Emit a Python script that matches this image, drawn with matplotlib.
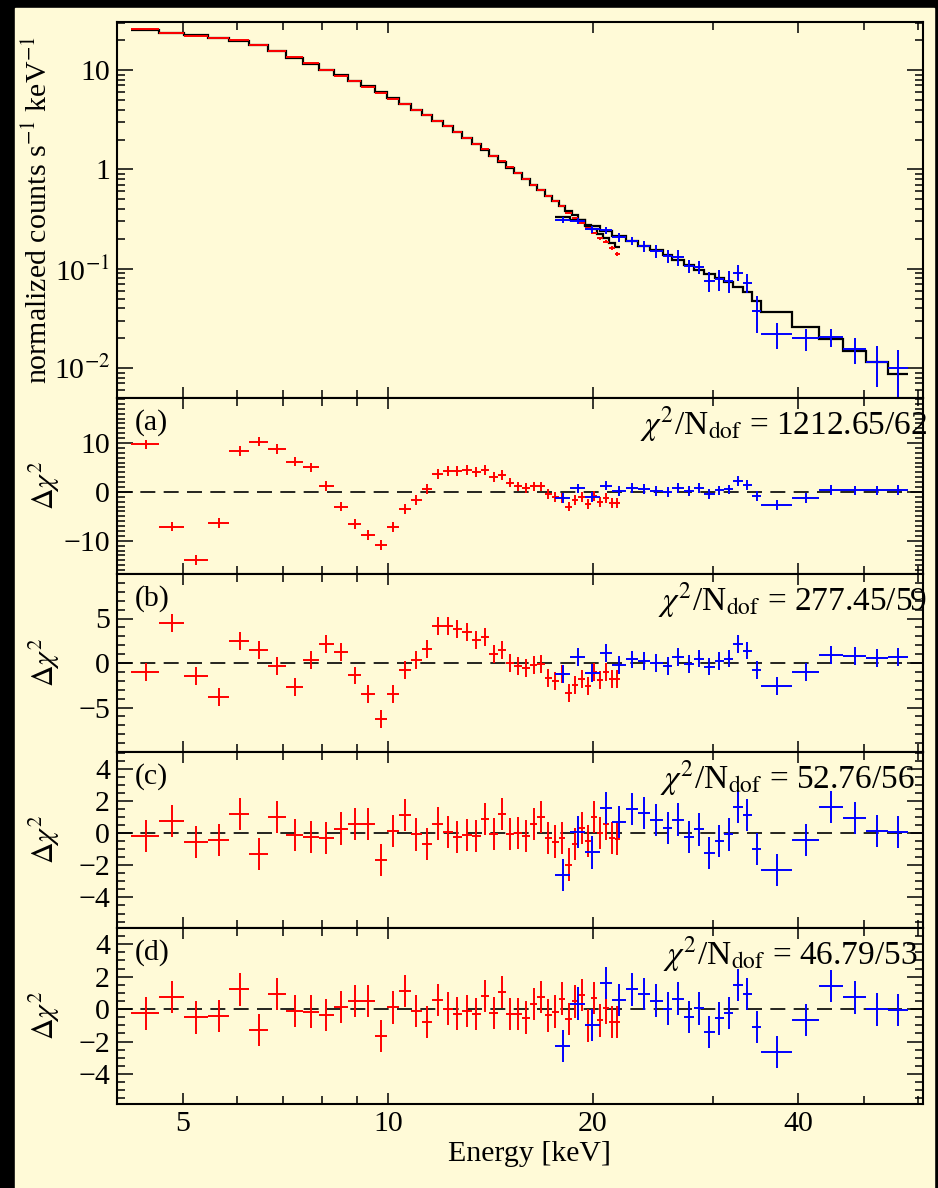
import numpy as np
import matplotlib
matplotlib.use('Agg')
import matplotlib.pyplot as plt
from matplotlib.ticker import FixedLocator, FixedFormatter, NullFormatter, MultipleLocator
from matplotlib.patches import Rectangle

plt.rcParams['font.family'] = ['Liberation Serif', 'DejaVu Serif']
plt.rcParams['mathtext.fontset'] = 'stix'

# red spectrum (low energy instrument): bin edges in keV, counts, errors, model
red_edges = [4.20, 4.61, 5.02, 5.44, 5.85, 6.26, 6.67, 7.08, 7.50, 7.91,
             8.32, 8.73, 9.14, 9.56, 9.97, 10.38, 10.79, 11.20, 11.62, 12.03,
             12.44, 12.85, 13.26, 13.68, 14.09, 14.50, 14.91, 15.32, 15.74, 16.15,
             16.56, 16.97, 17.38, 17.80, 18.21, 18.62, 19.03, 19.44, 19.86, 20.27,
             20.68, 21.09, 21.50, 21.92]
red_counts = [25.7, 23.6, 22.2, 20.9, 20.0, 18.1, 15.6, 13.45, 11.7, 10.1,
              8.8, 7.7, 6.7, 5.87, 5.13, 4.51, 3.97, 3.50, 3.10, 2.74,
              2.39, 2.09, 1.82, 1.60, 1.37, 1.21, 1.05, 0.918, 0.798, 0.705,
              0.628, 0.541, 0.476, 0.426, 0.363, 0.324, 0.288, 0.258, 0.230, 0.203,
              0.187, 0.161, 0.141]
red_err = [0.10, 0.09, 0.09, 0.08, 0.08, 0.07, 0.06, 0.05, 0.05, 0.04,
           0.04, 0.035, 0.03, 0.027, 0.024, 0.021, 0.019, 0.017, 0.015, 0.014,
           0.012, 0.011, 0.010, 0.009, 0.008, 0.0075, 0.007, 0.0065, 0.006, 0.0055,
           0.005, 0.005, 0.005, 0.006, 0.007, 0.007, 0.007, 0.007, 0.007, 0.007,
           0.007, 0.007, 0.007]
red_model = [25.3, 23.9, 22.7, 21.1, 19.7, 17.8, 15.4, 13.3, 11.6, 10.07,
             8.85, 7.84, 6.85, 6.01, 5.23, 4.55, 3.99, 3.50, 3.07, 2.71,
             2.36, 2.06, 1.80, 1.58, 1.36, 1.20, 1.04, 0.912, 0.793, 0.702,
             0.625, 0.544, 0.481, 0.428, 0.381, 0.344, 0.310, 0.276, 0.249, 0.224,
             0.202, 0.182, 0.164]

# blue spectrum (high energy instrument)
blue_edges = [17.6, 18.5, 19.45, 20.45, 21.35, 22.35, 23.25, 24.2, 25.3, 26.15,
              27.2, 28.1, 29.05, 30.15, 31.15, 32.1, 33.2, 34.2, 35.3, 39.2,
              42.9, 46.6, 50.3, 54.2, 58.0]
blue_counts = [0.310, 0.305, 0.2496, 0.2457, 0.2074, 0.1917, 0.1696, 0.1521, 0.1345, 0.1305,
               0.1067, 0.1050, 0.0759, 0.0784, 0.0759, 0.0914, 0.0725, 0.0379, 0.0221, 0.0200,
               0.0205, 0.0155, 0.01162, 0.01012]
blue_err = [0.020, 0.020, 0.020, 0.020, 0.020, 0.019, 0.021, 0.023, 0.020, 0.023,
            0.016, 0.016, 0.0176, 0.0182, 0.0187, 0.0168, 0.0154, 0.0151, 0.0064, 0.0050,
            0.0043, 0.0045, 0.0052, 0.0052]
blue_model = [0.332, 0.310, 0.2695, 0.2373, 0.2113, 0.1882, 0.1696, 0.1545, 0.1376, 0.1226,
              0.1092, 0.0973, 0.0876, 0.0799, 0.0728, 0.0656, 0.0584, 0.0478, 0.0365, 0.0258,
              0.0195, 0.0149, 0.01147, 0.00868]

# residuals (delta chi) for the four fits
res_a_red = [9.7, -7.1, -14.0, -6.4, 8.4, 10.3, 8.8, 6.2, 5.0, 1.2,
             -3.0, -6.6, -8.8, -10.9, -7.2, -3.5, -1.6, 0.6, 3.6, 4.3,
             4.3, 4.5, 4.1, 4.5, 3.0, 3.5, 1.9, 1.1, 0.8, 1.1,
             1.1, -0.4, -1.1, -1.3, -3.0, -1.6, -1.1, -2.5, -0.8, -2.0,
             -1.3, -2.2, -2.2]
res_a_blue = [-1.2, 0.7, -1.0, 1.3, 0.2, 0.8, 0.6, 0.2, -0.1, 0.8,
              0.1, 0.8, -0.4, 0.3, 0.5, 2.3, 1.4, -0.8, -2.7, -1.3,
              0.4, 0.3, 0.3, 0.4]
res_b_red = [-1.0, 4.5, -1.5, -3.8, 2.5, 1.5, -0.3, -2.7, 0.3, 2.1,
             1.2, -1.4, -3.5, -6.3, -3.5, -0.8, 0.3, 1.6, 4.2, 4.2,
             3.8, 3.5, 2.6, 2.9, 1.0, 1.5, 0.0, -0.3, -0.6, -0.2,
             -0.1, -1.7, -2.0, -1.2, -3.4, -2.5, -1.8, -2.6, -1.0, -1.9,
             -1.0, -1.8, -1.8]
res_b_blue = [-1.2, 0.7, -1.1, 1.1, -0.2, 0.4, 0.2, 0.0, -0.3, 0.7,
              -0.1, 0.5, -0.4, 0.2, 0.5, 2.1, 1.4, -0.8, -2.6, -1.0,
              0.9, 0.8, 0.6, 0.7]
res_c_red = [-0.19, 0.75, -0.54, -0.44, 1.19, -1.31, 0.98, -0.13, -0.23, -0.29,
             0.29, 0.56, 0.56, -1.69, 0.15, 1.13, -0.08, -0.69, 0.6, 0.07,
             -0.26, -0.1, -0.19, 0.9, -0.04, 1.21, -0.04, 0.0, -0.19, 0.58,
             1.0, -0.31, -0.52, -0.31, -1.95, -0.66, 0.3, -0.5, 1.0, 0.0,
             0.6, -0.3, -0.35]
res_c_blue = [-2.6, 0.07, -1.2, 1.58, 0.7, 1.48, 1.24, 0.8, 0.3, 0.85,
              -0.24, 0.23, -1.23, -0.48, -0.08, 1.65, 1.13, -0.96, -2.31, -0.4,
              1.65, 0.92, 0.15, 0.08]
res_d_red = [-0.27, 0.76, -0.51, -0.43, 1.21, -1.29, 0.92, -0.1, -0.16, -0.37,
             0.14, 0.51, 0.51, -1.66, 0.1, 1.13, -0.1, -0.78, 0.55, 0.03,
             -0.28, -0.12, -0.29, 0.8, -0.23, 1.05, -0.29, -0.29, -0.53, 0.33,
             0.74, -0.39, -0.15, 0.65, -0.62, 0.47, 0.88, -1.0, 0.7, -0.69,
             0.08, -0.8, -0.8]
res_d_blue = [-2.26, 0.34, -0.99, 1.6, 0.57, 1.21, 0.93, 0.52, 0.03, 0.65,
              -0.48, 0.04, -1.4, -0.57, -0.23, 1.48, 0.92, -1.09, -2.63, -0.68,
              1.42, 0.72, -0.02, -0.06]

panel_tags = ['(a)', '(b)', '(c)', '(d)']
chi_values = ['1212.65/62', '277.45/59', '52.76/56', '46.79/53']

cream = '#fffad7'
fs = 21.5

red_e = np.array(red_edges)
red_x = 0.5 * (red_e[:-1] + red_e[1:])
red_xerr = 0.5 * (red_e[1:] - red_e[:-1])
blue_e = np.array(blue_edges)
blue_x = 0.5 * (blue_e[:-1] + blue_e[1:])
blue_xerr = 0.5 * (blue_e[1:] - blue_e[:-1])

fig = plt.figure(figsize=(9.38, 11.88), dpi=100, facecolor='black')
fig.patches.append(Rectangle((15 / 938, 0), 919 / 938, 1180 / 1188,
                             transform=fig.transFigure, color=cream, zorder=-10))

W, H = 938, 1188
x0, x1 = 117, 923


def box(top, bottom):
    return [x0 / W, 1 - bottom / H, (x1 - x0) / W, (bottom - top) / H]


ax0 = fig.add_axes(box(22, 398))
res_boxes = [box(398, 574), box(574, 752), box(752, 928), box(928, 1104)]
res_axes = [fig.add_axes(b, sharex=ax0) for b in res_boxes]
all_axes = [ax0] + res_axes

for ax in all_axes:
    ax.set_facecolor(cream)
    ax.set_xscale('log')
    for s in ax.spines.values():
        s.set_linewidth(1.5)
    ax.tick_params(which='both', direction='in', top=True, right=True,
                   width=1.1, labelsize=fs, pad=5)
    ax.tick_params(axis='y', which='major', length=11.5)
    ax.tick_params(axis='y', which='minor', length=5.8)
    ax.tick_params(axis='x', which='major', length=8)
    ax.tick_params(axis='x', which='minor', length=5.5)
    ax.tick_params(labelbottom=False)

ax0.set_xlim(4.0, 61.0)
ax0.xaxis.set_major_locator(FixedLocator([5, 10, 20, 40]))
ax0.xaxis.set_minor_locator(FixedLocator([6, 7, 8, 9, 30, 50, 60]))
ax0.xaxis.set_major_formatter(FixedFormatter(['5', '10', '20', '40']))
ax0.xaxis.set_minor_formatter(NullFormatter())

# main spectrum panel
ax0.set_yscale('log')
ax0.set_ylim(0.005, 30.5)
ax0.yaxis.set_major_locator(FixedLocator([0.01, 0.1, 1, 10]))
ax0.yaxis.set_major_formatter(FixedFormatter(['10$^{-2}$', '10$^{-1}$', '1', '10']))
ax0.yaxis.set_minor_locator(matplotlib.ticker.LogLocator(base=10, subs=np.arange(2, 10)))
ax0.yaxis.set_minor_formatter(NullFormatter())

ax0.stairs(red_model, red_e, baseline=None, color='black', lw=1.6, zorder=2)
ax0.stairs(blue_model, blue_e, baseline=None, color='black', lw=1.6, zorder=2)
ax0.errorbar(red_x, red_counts, xerr=red_xerr, yerr=red_err, fmt='none',
             ecolor='red', elinewidth=1.4, capsize=0, zorder=3)
ax0.errorbar(blue_x, blue_counts, xerr=blue_xerr, yerr=blue_err, fmt='none',
             ecolor='blue', elinewidth=1.4, capsize=0, zorder=3)
ax0.set_ylabel('normalized counts s$^{-1}$ keV$^{-1}$', fontsize=fs)
ax0.yaxis.set_label_coords(-0.079, 0.5)

# residual panels
res_red = [res_a_red, res_b_red, res_c_red, res_d_red]
res_blue = [res_a_blue, res_b_blue, res_c_blue, res_d_blue]
ylims = [(-16.8, 19.2), (-10, 10), (-5.9, 5.05), (-5.85, 5.0)]
major_ticks = [[-10, 0, 10], [-5, 0, 5], [-4, -2, 0, 2, 4], [-4, -2, 0, 2, 4]]
minor_step = [1, 1, 0.5, 0.5]
chi_right = [1.005, 1.005, 0.990, 0.993]

for i, ax in enumerate(res_axes):
    ax.axhline(0, color='black', lw=1.2, ls=(0, (9, 5)), zorder=1)
    ax.errorbar(red_x, res_red[i], xerr=red_xerr, yerr=1.0, fmt='none',
                ecolor='red', elinewidth=1.4, capsize=0, zorder=3)
    ax.errorbar(blue_x, res_blue[i], xerr=blue_xerr, yerr=1.0, fmt='none',
                ecolor='blue', elinewidth=1.4, capsize=0, zorder=3)
    ax.set_ylim(*ylims[i])
    ax.yaxis.set_major_locator(FixedLocator(major_ticks[i]))
    ax.yaxis.set_minor_locator(MultipleLocator(minor_step[i]))
    ax.set_ylabel(r'$\Delta\chi^2$', fontsize=fs)
    ax.yaxis.set_label_coords(-0.068, 0.5)
    ax.text(0.022, 1 - 11 / 176, panel_tags[i], transform=ax.transAxes,
            fontsize=fs, ha='left', va='top')
    ax.text(chi_right[i], 0.795, r'$\chi^2$/N$_{\rm dof}$ = ' + chi_values[i],
            transform=ax.transAxes, fontsize=24, ha='right', va='baseline',
            clip_on=False)

axb = res_axes[-1]
axb.tick_params(labelbottom=True)
axb.set_xlabel('Energy [keV]', fontsize=fs)
axb.xaxis.set_label_coords(0.512, -0.21)

fig.savefig('out.png', dpi=100, facecolor=fig.get_facecolor())
